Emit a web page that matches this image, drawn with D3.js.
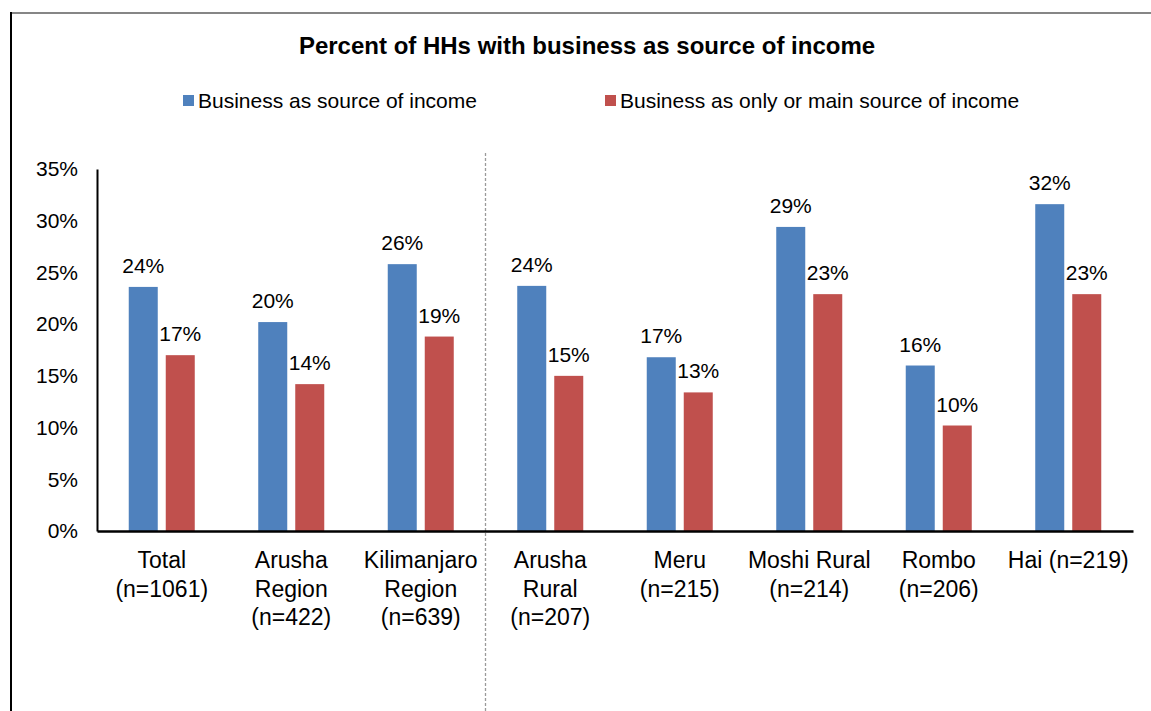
<!DOCTYPE html>
<html>
<head>
<meta charset="utf-8">
<script src="https://cdn.jsdelivr.net/npm/d3@7"></script>
<style>
  html, body { margin: 0; padding: 0; background: #fff; }
  svg { display: block; font-family: "Liberation Sans", Arial, sans-serif; }
</style>
</head>
<body>
<svg id="chart" width="1151" height="711"></svg>
<script>
// Category labels (each entry is a list of lines)
const categories = [
  ["Total", "(n=1061)"],
  ["Arusha", "Region", "(n=422)"],
  ["Kilimanjaro", "Region", "(n=639)"],
  ["Arusha", "Rural", "(n=207)"],
  ["Meru", "(n=215)"],
  ["Moshi Rural", "(n=214)"],
  ["Rombo", "(n=206)"],
  ["Hai (n=219)"]
];
const seriesNames = ["Business as source of income", "Business as only or main source of income"];
const businessSource = [23.6, 20.2, 25.8, 23.7, 16.8, 29.4, 16.0, 31.6];
const businessMain   = [17.0, 14.2, 18.8, 15.0, 13.4, 22.9, 10.2, 22.9];
const yTicks = [0, 5, 10, 15, 20, 25, 30, 35];
const colors = ["#4f81bd", "#c0504d"];

const svg = d3.select("#chart");
const plot = { left: 97, right: 1133, top: 169, bottom: 531 };

// Frame
svg.append("line").attr("x1", 11).attr("x2", 1151).attr("y1", 13).attr("y2", 13)
  .attr("stroke", "#868686").attr("stroke-width", 2);
svg.append("line").attr("x1", 11).attr("x2", 11).attr("y1", 12).attr("y2", 711)
  .attr("stroke", "#000").attr("stroke-width", 2);

// Title
svg.append("text").attr("x", 587).attr("y", 54).attr("text-anchor", "middle")
  .attr("font-size", 24).attr("font-weight", "bold").attr("fill", "#000")
  .text("Percent of HHs with business as source of income");

// Legend
const legendItems = [{ x: 183, name: seriesNames[0], color: colors[0] },
                     { x: 605, name: seriesNames[1], color: colors[1] }];
const lg = svg.append("g");
legendItems.forEach(d => {
  lg.append("rect").attr("x", d.x).attr("y", 95).attr("width", 11).attr("height", 11).attr("fill", d.color);
  lg.append("text").attr("x", d.x + 15).attr("y", 108).attr("font-size", 21).attr("fill", "#000").text(d.name);
});

// Scales
const x0 = d3.scaleBand().domain(d3.range(categories.length)).range([plot.left, plot.right]);
const x1 = d3.scaleBand().domain([0, 1]).range([0, x0.bandwidth()])
  .paddingInner(8 / 37).paddingOuter(0.858);
const y = d3.scaleLinear().domain([0, 35]).range([plot.bottom, plot.top]);

// Divider between regional totals and districts
svg.append("line")
  .attr("x1", x0(3)).attr("x2", x0(3)).attr("y1", 153).attr("y2", 711)
  .attr("stroke", "#9a9a9a").attr("stroke-width", 1.3).attr("stroke-dasharray", "3,2");

// Bars
const data = categories.map((c, i) => ({ i, values: [businessSource[i], businessMain[i]] }));
const groups = svg.append("g").selectAll("g").data(data).join("g")
  .attr("transform", d => `translate(${x0(d.i)},0)`);
groups.selectAll("rect").data(d => d.values.map((v, s) => ({ v, s }))).join("rect")
  .attr("x", d => x1(d.s)).attr("width", x1.bandwidth())
  .attr("y", d => y(d.v)).attr("height", d => y(0) - y(d.v))
  .attr("fill", d => colors[d.s]);
groups.selectAll("text").data(d => d.values.map((v, s) => ({ v, s }))).join("text")
  .attr("x", d => x1(d.s) + x1.bandwidth() / 2).attr("y", d => y(d.v) - 14)
  .attr("text-anchor", "middle").attr("font-size", 21).attr("fill", "#000")
  .text(d => Math.round(d.v) + "%");

// Y axis
const yAxis = d3.axisLeft(y).tickValues(yTicks).tickSize(0).tickPadding(19)
  .tickFormat(d => d + "%");
const yg = svg.append("g").attr("transform", `translate(${plot.left},0)`).call(yAxis);
yg.select(".domain").attr("stroke", "#000").attr("stroke-width", 2);
yg.selectAll("text").attr("font-size", 21).attr("fill", "#000")
  .attr("font-family", "Liberation Sans, Arial, sans-serif");

// X axis
const xAxis = d3.axisBottom(x0).tickSize(0).tickFormat(() => "");
const xg = svg.append("g").attr("transform", `translate(0,${plot.bottom})`).call(xAxis);
xg.select(".domain").attr("stroke", "#000").attr("stroke-width", 2.5);

// Category labels
const cl = svg.append("g");
categories.forEach((lines, i) => {
  const t = cl.append("text").attr("text-anchor", "middle").attr("font-size", 23).attr("fill", "#000");
  lines.forEach((ln, k) => {
    t.append("tspan").attr("x", x0(i) + x0.bandwidth() / 2).attr("y", 568 + k * 28.5).text(ln);
  });
});
</script>
</body>
</html>
